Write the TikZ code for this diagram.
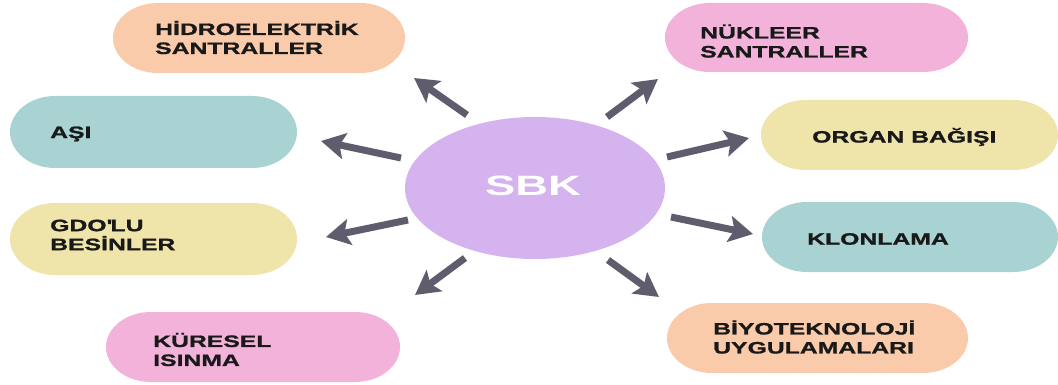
\documentclass[tikz,border=0pt]{standalone}
\usepackage{fontspec}
\setmainfont{Liberation Sans}[FakeStretch=1.5, BoldFeatures={FakeBold=1.2}]
\newfontfamily\sbkfont{Liberation Sans}[FakeStretch=1.62]
\usetikzlibrary{arrows.meta}
\definecolor{cpeach}{HTML}{F9CBAA}
\definecolor{cpink}{HTML}{F2B2DA}
\definecolor{cteal}{HTML}{A9D3D3}
\definecolor{cyellow}{HTML}{EFE4A9}
\definecolor{cpurple}{HTML}{D5B3EE}
\definecolor{carrow}{HTML}{5F5C6E}
\tikzset{
  lbl/.style={anchor=west, align=left, inner sep=0pt, font=\fontsize{16.5}{19}\selectfont\bfseries, text=black!90},
  arr/.style={draw=carrow, line width=7pt, -{Stealth[length=24pt,width=26pt,inset=5pt]}},
}
% pill: name, x1, y1, x2, y2, colour  (y axis points down)
\newcommand{\mypill}[6]{%
  \fill[#6] ({#2+45},#3) -- ({#4-45},#3)
    arc[start angle=-90,end angle=90,x radius=45,y radius={(#5-#3)/2}]
    -- ({#2+45},#5)
    arc[start angle=90,end angle=270,x radius=45,y radius={(#5-#3)/2}] -- cycle;
  \node[inner sep=0pt, minimum width={(#4-#2)*1pt}, minimum height={(#5-#3)*1pt}] (#1) at ({(#2+#4)/2},{(#3+#5)/2}) {};
}
\begin{document}
\begin{tikzpicture}[x=1pt,y=-1pt]
\useasboundingbox (0,0) rectangle (1058,385);
\mypill{hidro}{113}{3}{405}{73}{cpeach}
\mypill{nuk}{665}{3}{968}{72}{cpink}
\mypill{asi}{10}{96}{297}{168}{cteal}
\mypill{gdo}{10}{203}{297}{275}{cyellow}
\mypill{organ}{761}{100}{1058}{170}{cyellow}
\mypill{klon}{762}{202}{1058}{272}{cteal}
\mypill{kur}{106}{312}{400}{382}{cpink}
\mypill{biyo}{667}{303}{968}{373}{cpeach}

\node[lbl] (thidro) at (155,37.5) {HİDROELEKTRİK\\SANTRALLER};
\node[lbl] (tnuk) at (700,41) {NÜKLEER\\SANTRALLER};
\node[lbl] (tasi) at (50,134) {AŞI};
\node[lbl] (tgdo) at (50,235) {GDO\textquotesingle LU\\BESİNLER};
\node[lbl] (torgan) at (812,137) {ORGAN BAĞIŞI};
\node[lbl] (tklon) at (807,239) {KLONLAMA};
\node[lbl] (tkur) at (153,349.5) {KÜRESEL\\ISINMA};
\node[lbl] (tbiyo) at (713,337) {BİYOTEKNOLOJİ\\UYGULAMALARI};

\fill[cpurple] (535,188) ellipse[x radius=130, y radius=71];
\node[inner sep=0pt, text=white, font=\sbkfont\fontsize{28}{30}\selectfont\bfseries] (sbk) at (533,186) {SBK};

\coordinate (a1) at (467,115); \coordinate (b1) at (414,78);
\coordinate (a2) at (607,117); \coordinate (b2) at (658,79);
\coordinate (a3) at (401,158); \coordinate (b3) at (321,141);
\coordinate (a4) at (408,220); \coordinate (b4) at (326,237);
\coordinate (a5) at (667,157); \coordinate (b5) at (749,138);
\coordinate (a6) at (671,217); \coordinate (b6) at (753,234);
\coordinate (a7) at (465,258); \coordinate (b7) at (415,295);
\coordinate (a8) at (608,260); \coordinate (b8) at (659,297);
\foreach \i in {1,...,8} \draw[arr] (a\i) -- (b\i);
\end{tikzpicture}
\end{document}
